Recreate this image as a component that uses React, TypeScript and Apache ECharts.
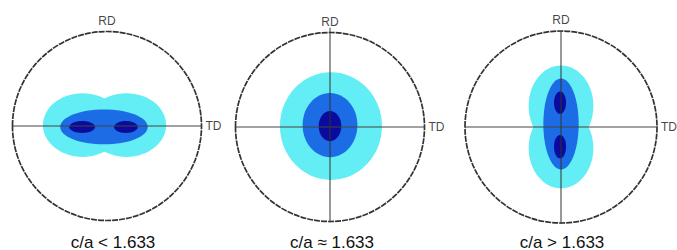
import React, { useEffect, useRef } from "react";
import * as echarts from "echarts";

// Captions under each pole figure
const panelCaptions = ["c/a < 1.633", "c/a ≈ 1.633", "c/a > 1.633"];
const axisNames = ["RD", "TD"];

// Contour ellipses in units of the pole-figure radius: [cx, cy, rx, ry]
// Level 0 = low intensity (cyan), 1 = medium (blue), 2 = high (navy)
const lowCyan = [[-0.258, 0.01, 0.42, 0.337], [0.206, 0.01, 0.42, 0.337]];
const lowBlue = [[-0.032, -0.01, 0.463, 0.184]];
const lowNavy = [[-0.263, -0.01, 0.137, 0.063], [0.2, -0.01, 0.126, 0.063]];

const idealCyan = [[0.01, 0.01, 0.54, 0.57]];
const idealBlue = [[0, 0.02, 0.29, 0.34]];
const idealNavy = [[0, 0.01, 0.12, 0.16]];

const highCyan = [[0, 0.22, 0.337, 0.42], [0, -0.22, 0.337, 0.42]];
const highBlue = [[0, 0.03, 0.184, 0.474]];
const highNavy = [[-0.01, 0.253, 0.063, 0.116], [-0.01, -0.205, 0.063, 0.121]];

const panelContours = [
  [lowCyan, lowBlue, lowNavy],
  [idealCyan, idealBlue, idealNavy],
  [highCyan, highBlue, highNavy],
];
const hasVerticalAxis = [false, true, true];

// layout (pixels)
const centers = [
  [107, 126],
  [330, 127],
  [561, 127],
];
const captionX = [113, 332, 562];
const radii = [94.5, 94.5, 96];
const levelColors = ["#62EEF4", "#1C6CE6", "#0A0A9C"];
const FONT = "Arial, 'Liberation Sans', sans-serif";

export default function App() {
  const ref = useRef<HTMLDivElement>(null);
  useEffect(() => {
    if (!ref.current) return;
    const chart = echarts.init(ref.current, undefined, { renderer: "svg" });
    const grid: any[] = [];
    const xAxis: any[] = [];
    const yAxis: any[] = [];
    const series: any[] = [];
    const graphic: any[] = [];

    centers.forEach(([cx, cy], i) => {
      const R = radii[i];
      grid.push({ left: cx - R, top: cy - R, width: 2 * R, height: 2 * R });
      xAxis.push({ type: "value", gridIndex: i, min: -1, max: 1, show: false });
      yAxis.push({ type: "value", gridIndex: i, min: -1, max: 1, show: false });

      const contourData: any[] = [];
      panelContours[i].forEach((lvl, li) => {
        lvl.forEach((e) => contourData.push([e[0], e[1], e[2], e[3], li]));
      });
      series.push({
        type: "custom",
        xAxisIndex: i,
        yAxisIndex: i,
        silent: true,
        clip: false,
        data: contourData,
        renderItem: (params: any, api: any) => {
          const c = api.coord([api.value(0), api.value(1)]);
          const s = api.size([api.value(2), api.value(3)]);
          return {
            type: "ellipse",
            shape: { cx: c[0], cy: c[1], rx: s[0], ry: s[1] },
            style: { fill: levelColors[api.value(4)], stroke: null },
          };
        },
      });
      // outer circle
      series.push({
        type: "custom",
        xAxisIndex: i,
        yAxisIndex: i,
        silent: true,
        clip: false,
        data: [[0, 0, 2, 2]],
        renderItem: (params: any, api: any) => {
          const c = api.coord([api.value(0), api.value(1)]);
          const s = api.size([api.value(2), api.value(3)]);
          return {
            type: "ellipse",
            shape: { cx: c[0], cy: c[1], rx: s[0] / 2, ry: s[1] / 2 },
            style: { fill: "none", stroke: "#333", lineWidth: 1.7, lineDash: [6, 1] },
          };
        },
      });
      // horizontal (TD) axis
      series.push({
        type: "line",
        xAxisIndex: i,
        yAxisIndex: i,
        symbol: "none",
        silent: true,
        clip: false,
        lineStyle: { color: "#444", width: 1 },
        data: [[-1, 0], [1.01, 0]],
      });
      if (hasVerticalAxis[i]) {
        series.push({
          type: "line",
          xAxisIndex: i,
          yAxisIndex: i,
          symbol: "none",
          silent: true,
          clip: false,
          lineStyle: { color: "#333", width: 1 },
          data: [[0, i === 1 ? 1.05 : 1.0], [0, -1.01]],
        });
      }
      // RD / TD labels
      series.push({
        type: "scatter",
        xAxisIndex: i,
        yAxisIndex: i,
        symbolSize: 0,
        silent: true,
        clip: false,
        data: [
          {
            value: [0, 1],
            name: axisNames[0],
            label: { position: "top", distance: 5 },
          },
          {
            value: [1, 0],
            name: axisNames[1],
            label: { position: "right", distance: 4 },
          },
        ],
        label: {
          show: true,
          formatter: (p: any) => p.name,
          fontSize: 12,
          fontFamily: FONT,
          color: "#111",
        },
      });
      graphic.push({
        type: "text",
        x: captionX[i],
        y: 242,
        style: {
          text: panelCaptions[i],
          fontSize: 17,
          fontFamily: FONT,
          fill: "#111",
          textAlign: "center",
          textVerticalAlign: "middle",
        },
      });
    });

    chart.setOption({
      animation: false,
      backgroundColor: "#ffffff",
      grid,
      xAxis,
      yAxis,
      series,
      graphic,
    });
    return () => chart.dispose();
  }, []);
  return (
    <div
      ref={ref}
      style={{ position: "absolute", left: 0, top: 0, width: 677, height: 250 }}
    />
  );
}
